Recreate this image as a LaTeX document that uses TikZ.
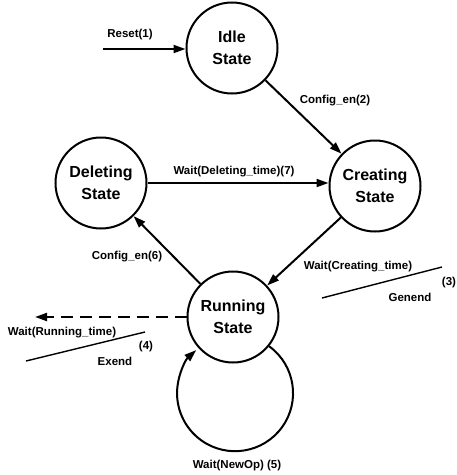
\documentclass[tikz,border=0pt]{standalone}
\usepackage{fontspec}
\setmainfont{Liberation Sans}
\usetikzlibrary{arrows.meta}
\begin{document}
\begin{tikzpicture}[x=1pt,y=1pt,
  state/.style={circle,draw,line width=2pt,minimum size=91pt,inner sep=0pt,align=center,
    font=\fontsize{16}{22}\selectfont\bfseries},
  lbl/.style={inner sep=0pt,font=\fontsize{11.5}{13}\selectfont\bfseries},
  arr/.style={line width=2pt,-{Triangle[length=12pt,width=8pt]}},
  slash/.style={line width=1.4pt}]
\useasboundingbox (0,0) rectangle (457,-475);
\node[state] (I) at (232,-48) {Idle\\State};
\node[state] (D) at (101,-183) {Deleting\\State};
\node[state] (C) at (375,-186) {Creating\\State};
\node[state] (R) at (233,-317) {Running\\State};
\coordinate (rs) at (103,-49);
\coordinate (rx) at (35,-317);
% connectors
\draw[arr] (rs) -- (rs -| I.west);
\draw[arr] (I) -- (C);
\draw[arr] (D.east) -- (D.east -| C.west);
\draw[arr] (C) -- (R);
\draw[arr] (R) -- (D);
\draw[arr,dash pattern=on 12pt off 7pt] (R.west) -- (rx);
\draw[arr] (R.-39) arc[start angle=54,end angle=-228,radius=58pt];
% labels
\node[lbl] (l1) at (130,-35) {Reset(1)};
\node[lbl] (l2) at (335,-101) {Config\_en(2)};
\node[lbl] (l7) at (234,-172) {Wait(Deleting\_time)(7)};
\node[lbl] (l3a) at (358,-267) {Wait(Creating\_time)};
\coordinate (s3a) at (322,-298);
\coordinate (s3b) at (442,-267);
\draw[slash] (s3a) -- (s3b);
\node[lbl] (l3n) at (449,-283) {(3)};
\node[lbl] (l3b) at (410,-297) {Genend};
\node[lbl] (l6) at (127,-257) {Config\_en(6)};
\node[lbl] (l4a) at (62,-333) {Wait(Running\_time)};
\coordinate (s4a) at (26,-361);
\coordinate (s4b) at (145,-332);
\draw[slash] (s4a) -- (s4b);
\node[lbl] (l4n) at (146,-347) {(4)};
\node[lbl] (l4b) at (115,-361) {Exend};
\node[lbl] (l5) at (237,-466) {Wait(NewOp) (5)};
\end{tikzpicture}
\end{document}
